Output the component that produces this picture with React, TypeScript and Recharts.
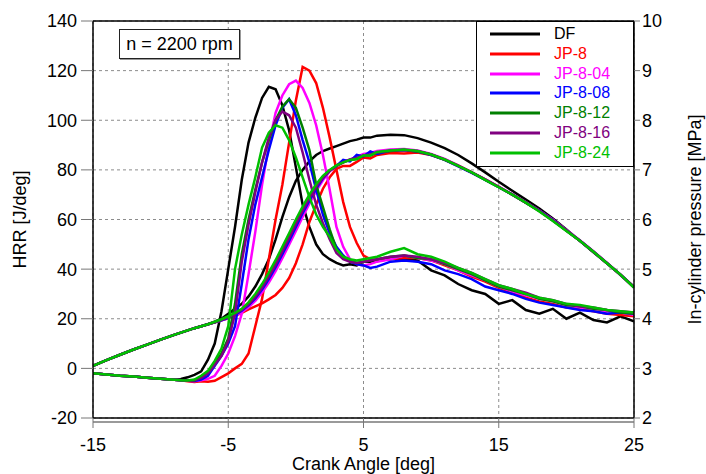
import React from 'react';
import { LineChart, Line, XAxis, YAxis, CartesianGrid, ReferenceLine, Legend } from 'recharts';

const FONT = '"Liberation Sans", Arial, Helvetica, sans-serif';

// Crank angle grid [deg]
const CRANK_ANGLE = [
  -15, -14, -13, -12, -11, -10, -9,
  -8.5, -8, -7.5, -7, -6.5, -6, -5.5, -5, -4.5, -4, -3.5, -3, -2.5, -2, -1.5, -1, -0.5,
  0, 0.5, 1, 1.5, 2, 2.5, 3, 3.5, 4, 4.5, 5, 5.5, 6,
  7, 8, 9, 10, 11, 12, 13, 14, 15, 16, 17, 18, 19, 20, 21, 22, 23, 24, 25,
];

const X_TICKS = [-15, -5, 5, 15, 25];
const HRR_TICKS = [-20, 0, 20, 40, 60, 80, 100, 120, 140];
const P_TICKS = [2, 3, 4, 5, 6, 7, 8, 9, 10];

// HRR [J/deg] common part, -15 .. -9 deg
const HRR_PRE = [-2.0, -2.5, -3.0, -3.3, -3.8, -4.2, -4.6];
// HRR from -8.5 deg to 25 deg
const HRR_DF = [-4.3, -3.6, -2.6, -1.2, 3.5, 10, 23, 40, 57, 76, 91, 101, 109, 113.5, 112.5, 106, 96, 81, 66, 57, 50, 46, 44, 42.5, 41.5, 42, 41.5, 43, 43, 43.5,
  44.5, 44, 43.5, 39.5, 37.5, 34, 31.5, 30, 26, 27.5, 23.5, 22, 24, 20, 22.5, 19.5, 18.5, 21, 19];
const HRR_JP8 = [-4.8, -5.2, -5.5, -5.2, -5.4, -5.0, -3.5, -2, 0, 1.8, 6, 17, 28, 44, 60, 74, 91, 108, 121.5, 120, 115, 105, 93, 80, 67, 57, 50.5, 45.5, 44, 43.5,
  44, 44.5, 44.5, 43.5, 41.5, 39.5, 37, 35, 32.5, 30.5, 28.5, 27, 26, 24.5, 24, 23, 22, 21.5, 21];
const HRR_JP8_04 = [-4.8, -5.0, -5.2, -4.8, -4.2, -3, 1, 6, 13, 22, 38, 55, 74, 90, 103, 110, 114.5, 116, 113, 107, 98, 86, 72, 57, 49, 44, 42, 41.5, 42, 43,
  44, 45.5, 44.5, 43.5, 42, 39.5, 37.5, 35.5, 33, 31, 29.5, 28, 27, 25.5, 24.5, 24, 23, 22.5, 21.5];
const HRR_JP8_08 = [-4.8, -5.0, -5.1, -4.5, -3, 1, 5, 10, 17, 34, 52, 66, 77, 88, 98, 105, 108.5, 102, 92, 83, 72, 62, 54.5, 49, 45.5, 43, 42, 41.5, 40.5, 41,
  43, 43.5, 43, 42, 39.5, 38, 36, 33, 31.5, 30, 28, 26.5, 25.5, 24.5, 23.5, 23, 22, 22.5, 22];
const HRR_JP8_12 = [-4.8, -5.0, -4.9, -3.5, -1.5, 2, 6, 12, 26, 46, 60, 72, 83, 92, 100, 105.5, 108.5, 105, 97, 88, 74, 65, 56, 48, 45, 43.5, 42.5, 43, 43.5, 44,
  45, 45.5, 44.5, 44, 42, 40, 38, 35.5, 33, 31.5, 30, 28, 27, 25.5, 25, 24, 23.5, 22.5, 22];
const HRR_JP8_16 = [-4.8, -5.0, -4.8, -3.8, -2, 1.5, 5, 11, 22, 43, 58, 71, 83, 93, 100, 103.5, 102, 97, 87, 76, 66, 58.5, 52, 46.5, 44, 43, 42.5, 43, 43.5, 44,
  45, 45.5, 45, 44, 42.5, 40.5, 38.5, 36, 33.5, 32, 30.5, 28.5, 27.5, 26, 25, 24.5, 23.5, 23, 22.5];
const HRR_JP8_24 = [-4.8, -4.9, -4.5, -3, -1, 3, 8, 17, 40, 54, 66, 77, 89, 95, 98, 97, 92, 85, 77, 69, 62, 57, 53, 48, 45, 44, 43.5, 44, 44.5, 45,
  47, 48.5, 46, 45, 43, 40.5, 38.5, 36, 33.5, 32, 30, 28.5, 27.5, 26, 25.5, 24.5, 23.5, 23, 22.5];

// In-cylinder pressure [MPa], common compression part -15 .. -6.5 deg
const P_PRE = [3.05, 3.165, 3.275, 3.38, 3.48, 3.58, 3.675, 3.72, 3.765, 3.81, 3.85, 3.89];
// pressure from -6 deg to 25 deg
const P_DF = [3.94, 4.0, 4.1, 4.2, 4.3, 4.45, 4.65, 4.9, 5.2, 5.6, 6.05, 6.45, 6.78, 7.0, 7.17, 7.3, 7.38, 7.43, 7.48, 7.53, 7.58, 7.61, 7.65, 7.65, 7.69,
  7.71, 7.7, 7.64, 7.55, 7.44, 7.3, 7.13, 6.95, 6.76, 6.58, 6.4, 6.22, 6.02, 5.8, 5.57, 5.34, 5.12, 4.88, 4.64];
const P_JP8 = [3.93, 3.97, 4.01, 4.06, 4.12, 4.19, 4.25, 4.31, 4.39, 4.48, 4.62, 4.82, 5.12, 5.5, 5.95, 6.3, 6.62, 6.85, 7.02, 7.08, 7.08, 7.16, 7.25, 7.23, 7.3,
  7.34, 7.33, 7.35, 7.3, 7.21, 7.09, 6.95, 6.81, 6.66, 6.5, 6.34, 6.18, 5.99, 5.78, 5.57, 5.35, 5.12, 4.89, 4.64];
const P_JP8_04 = [3.93, 3.97, 4.01, 4.06, 4.13, 4.23, 4.36, 4.53, 4.73, 4.96, 5.22, 5.49, 5.77, 6.05, 6.32, 6.57, 6.79, 6.97, 7.08, 7.16, 7.21, 7.26, 7.32, 7.34, 7.38,
  7.41, 7.42, 7.39, 7.32, 7.22, 7.09, 6.95, 6.81, 6.66, 6.51, 6.35, 6.18, 6.0, 5.79, 5.58, 5.36, 5.13, 4.89, 4.63];
const P_JP8_08 = [3.93, 3.97, 4.02, 4.08, 4.16, 4.27, 4.41, 4.59, 4.8, 5.04, 5.3, 5.57, 5.85, 6.13, 6.38, 6.62, 6.83, 6.98, 7.08, 7.2, 7.17, 7.3, 7.27, 7.37, 7.32,
  7.39, 7.4, 7.37, 7.3, 7.2, 7.07, 6.94, 6.8, 6.65, 6.5, 6.34, 6.18, 5.99, 5.78, 5.57, 5.35, 5.12, 4.89, 4.64];
const P_JP8_12 = [3.93, 3.98, 4.04, 4.11, 4.19, 4.31, 4.47, 4.66, 4.88, 5.13, 5.4, 5.67, 5.95, 6.22, 6.46, 6.69, 6.86, 6.99, 7.08, 7.15, 7.2, 7.22, 7.29, 7.29, 7.35,
  7.38, 7.4, 7.37, 7.31, 7.2, 7.08, 6.95, 6.8, 6.65, 6.5, 6.34, 6.17, 5.98, 5.78, 5.57, 5.35, 5.12, 4.89, 4.63];
const P_JP8_16 = [3.93, 3.98, 4.03, 4.1, 4.18, 4.29, 4.44, 4.63, 4.85, 5.09, 5.36, 5.63, 5.91, 6.18, 6.43, 6.66, 6.84, 6.98, 7.08, 7.15, 7.21, 7.24, 7.29, 7.31, 7.35,
  7.39, 7.4, 7.38, 7.31, 7.21, 7.08, 6.95, 6.81, 6.66, 6.5, 6.34, 6.17, 5.98, 5.78, 5.57, 5.35, 5.12, 4.89, 4.64];
const P_JP8_24 = [3.94, 3.99, 4.05, 4.12, 4.2, 4.33, 4.5, 4.7, 4.93, 5.18, 5.45, 5.72, 6.0, 6.26, 6.5, 6.71, 6.88, 7.0, 7.09, 7.15, 7.2, 7.22, 7.29, 7.29, 7.36,
  7.39, 7.41, 7.38, 7.31, 7.21, 7.08, 6.95, 6.8, 6.65, 6.5, 6.34, 6.16, 5.97, 5.77, 5.57, 5.35, 5.12, 4.89, 4.63];

const FUELS = [
  { key: 'df', name: 'DF', color: '#000000', hrr: [...HRR_PRE, ...HRR_DF], p: [...P_PRE, ...P_DF] },
  { key: 'jp8', name: 'JP-8', color: '#FF0000', hrr: [...HRR_PRE, ...HRR_JP8], p: [...P_PRE, ...P_JP8] },
  { key: 'jp804', name: 'JP-8-04', color: '#FF00FF', hrr: [...HRR_PRE, ...HRR_JP8_04], p: [...P_PRE, ...P_JP8_04] },
  { key: 'jp808', name: 'JP-8-08', color: '#0000FF', hrr: [...HRR_PRE, ...HRR_JP8_08], p: [...P_PRE, ...P_JP8_08] },
  { key: 'jp812', name: 'JP-8-12', color: '#008000', hrr: [...HRR_PRE, ...HRR_JP8_12], p: [...P_PRE, ...P_JP8_12] },
  { key: 'jp816', name: 'JP-8-16', color: '#800080', hrr: [...HRR_PRE, ...HRR_JP8_16], p: [...P_PRE, ...P_JP8_16] },
  { key: 'jp824', name: 'JP-8-24', color: '#00C000', hrr: [...HRR_PRE, ...HRR_JP8_24], p: [...P_PRE, ...P_JP8_24] },
];

const rows = CRANK_ANGLE.map((x, i) => {
  const r: Record<string, number> = { x };
  FUELS.forEach((f) => {
    r['h_' + f.key] = f.hrr[i];
    r['p_' + f.key] = f.p[i];
  });
  return r;
});

const LegendBox = () => (
  <div
    style={{
      position: 'relative',
      width: 158,
      height: 146,
      boxSizing: 'border-box',
      border: '1px solid #000',
      background: '#fff',
      fontFamily: FONT,
      fontSize: 16,
    }}
  >
    {FUELS.map((f, i) => (
      <div
        key={f.key}
        style={{ position: 'absolute', left: 0, top: 2 + i * 19.8, height: 20, width: 156, lineHeight: '20px' }}
      >
        <svg width={156} height={20} style={{ position: 'absolute', left: 0, top: 0 }}>
          <line x1={13} x2={63} y1={10} y2={10} stroke={f.color} strokeWidth={3} />
        </svg>
        <span style={{ position: 'absolute', left: 77, top: 0, color: f.color, whiteSpace: 'nowrap' }}>{f.name}</span>
      </div>
    ))}
  </div>
);

const tickStyle = { fontSize: 18, fill: '#000', fontFamily: FONT };

export default function App() {
  return (
    <div style={{ position: 'absolute', left: 0, top: 0, width: 706, height: 474, background: '#fff', fontFamily: FONT }}>
      <LineChart width={706} height={474} data={rows} margin={{ top: 21, right: 0, bottom: 0, left: 0 }}>
        <CartesianGrid yAxisId="left" stroke="#8c8c8c" strokeDasharray="3 3" />
        <XAxis
          dataKey="x"
          type="number"
          domain={[-15, 25]}
          ticks={X_TICKS}
          allowDataOverflow
          height={56}
          tickSize={10}
          tickMargin={10}
          tick={tickStyle}
          tickLine={{ stroke: '#777' }}
          axisLine={{ stroke: '#9a9a9a', strokeWidth: 2, transform: 'translate(0,4)' }}
          label={{ value: 'Crank Angle [deg]', position: 'insideBottom', offset: 4, fontSize: 18, fill: '#000', fontFamily: FONT }}
        />
        <YAxis
          yAxisId="left"
          domain={[-20, 140]}
          ticks={HRR_TICKS}
          allowDataOverflow
          width={93}
          tickSize={12}
          tickMargin={4}
          tick={tickStyle}
          tickLine={{ stroke: '#777' }}
          axisLine={{ stroke: '#000', strokeWidth: 1.5 }}
          label={{ value: 'HRR [J/deg]', angle: -90, position: 'insideLeft', offset: 20, fontSize: 18, fill: '#000', fontFamily: FONT, style: { textAnchor: 'middle' } }}
        />
        <YAxis
          yAxisId="right"
          orientation="right"
          domain={[2, 10]}
          ticks={P_TICKS}
          allowDataOverflow
          width={72}
          tickSize={6}
          tickMargin={2}
          tick={tickStyle}
          tickLine={{ stroke: '#777' }}
          axisLine={{ stroke: '#000', strokeWidth: 1.5 }}
          label={{ value: 'In-cylinder pressure [MPa]', angle: -90, position: 'insideRight', offset: 11, fontSize: 18, fill: '#000', fontFamily: FONT, style: { textAnchor: 'middle' } }}
        />
        <ReferenceLine yAxisId="left" y={140} stroke="#000" strokeWidth={1.5} />
        <ReferenceLine yAxisId="left" y={-20} stroke="#000" strokeWidth={1.5} />
        {FUELS.flatMap((f) => [
          <Line
            key={'h_' + f.key}
            yAxisId="left"
            dataKey={'h_' + f.key}
            name={f.name}
            stroke={f.color}
            strokeWidth={2.5}
            dot={false}
            activeDot={false}
            isAnimationActive={false}
          />,
          <Line
            key={'p_' + f.key}
            yAxisId="right"
            dataKey={'p_' + f.key}
            name={f.name + ' p'}
            stroke={f.color}
            strokeWidth={2.5}
            dot={false}
            activeDot={false}
            legendType="none"
            isAnimationActive={false}
          />,
        ])}
        <Legend
          layout="vertical"
          align="center"
          verticalAlign="middle"
          content={() => <LegendBox />}
          wrapperStyle={{ left: 476, top: 21, width: 158, height: 146 }}
        />
      </LineChart>
      <div
        style={{
          position: 'absolute',
          left: 119,
          top: 29,
          width: 121,
          height: 30,
          boxSizing: 'border-box',
          border: '1px solid #222',
          boxShadow: '1px 1px 0 #999',
          background: '#fff',
          fontFamily: FONT,
          fontSize: 18,
          lineHeight: '28px',
          textAlign: 'center',
          color: '#000',
        }}
      >
        n = 2200 rpm
      </div>
    </div>
  );
}
